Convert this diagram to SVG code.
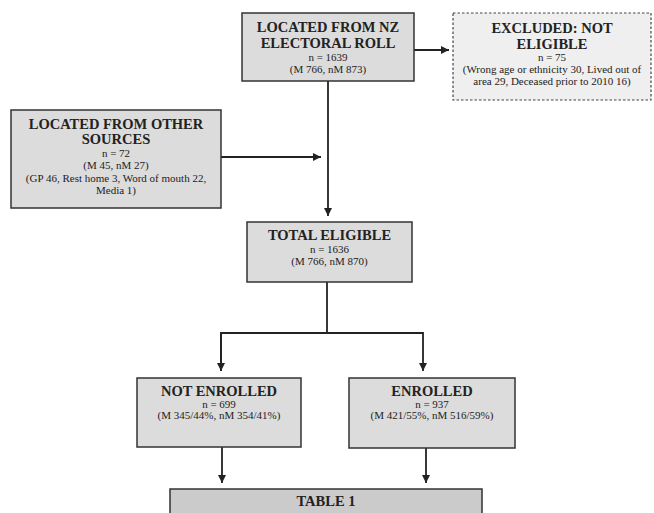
<svg xmlns="http://www.w3.org/2000/svg" width="654" height="513" viewBox="0 0 654 513">
<defs>
<style>
.box{fill:#dcdcdc;stroke:#333;stroke-width:1.5}
.excl{fill:#efefef;stroke:#444;stroke-width:1.2;stroke-dasharray:2.5,2}
.tbl{fill:#cbcbcb;stroke:#333;stroke-width:1.5}
.t{font-family:"Liberation Serif","Times New Roman",serif;font-weight:bold;font-size:14.5px;fill:#222;text-anchor:middle}
.s{font-family:"Liberation Serif","Times New Roman",serif;font-size:11px;fill:#222;text-anchor:middle}
.c{fill:none;stroke:#222;stroke-width:1.8}
</style>
<marker id="ah" viewBox="0 0 10 10" refX="10" refY="5" markerWidth="4.5" markerHeight="4.5" markerUnits="strokeWidth" orient="auto">
<path d="M0,0 L10,5 L0,10 z" fill="#222"/>
</marker>
</defs>
<rect width="654" height="513" fill="#fff"/>
<g id="connectors">
<line class="c" x1="328" y1="81" x2="328" y2="216" marker-end="url(#ah)"/>
<line class="c" x1="414" y1="50" x2="449" y2="50" marker-end="url(#ah)"/>
<line class="c" x1="221" y1="157" x2="321" y2="157" marker-end="url(#ah)"/>
<polyline class="c" points="327,282 327,333"/>
<polyline class="c" points="221,371 221,333 423,333 423,371" marker-start="url(#ah)" marker-end="url(#ah)" style="marker-start:none"/>
<line class="c" x1="221" y1="333" x2="221" y2="371" marker-end="url(#ah)"/>
<line class="c" x1="222" y1="447" x2="222" y2="483" marker-end="url(#ah)"/>
<line class="c" x1="426" y1="448" x2="426" y2="483" marker-end="url(#ah)"/>
</g>
<g id="electoral">
<rect class="box" x="242" y="13" width="172" height="68"/>
<text class="t" x="328" y="32">LOCATED FROM NZ</text>
<text class="t" x="328" y="48">ELECTORAL ROLL</text>
<text class="s" x="328" y="61">n = 1639</text>
<text class="s" x="328" y="73">(M 766, nM 873)</text>
</g>
<g id="excluded">
<rect class="excl" x="453" y="13" width="198" height="87"/>
<text class="t" x="552" y="33">EXCLUDED: NOT</text>
<text class="t" x="552" y="49">ELIGIBLE</text>
<text class="s" x="552" y="61">n = 75</text>
<text class="s" x="552" y="73">(Wrong age or ethnicity 30, Lived out of</text>
<text class="s" x="552" y="85">area 29, Deceased prior to 2010 16)</text>
</g>
<g id="other">
<rect class="box" x="11" y="110" width="210" height="98"/>
<text class="t" x="116" y="129">LOCATED FROM OTHER</text>
<text class="t" x="116" y="144">SOURCES</text>
<text class="s" x="116" y="157">n = 72</text>
<text class="s" x="116" y="169">(M 45, nM 27)</text>
<text class="s" x="116" y="182">(GP 46, Rest home 3, Word of mouth 22,</text>
<text class="s" x="116" y="194">Media 1)</text>
</g>
<g id="total">
<rect class="box" x="247" y="222" width="165" height="60"/>
<text class="t" x="329.5" y="240">TOTAL ELIGIBLE</text>
<text class="s" x="329.5" y="253">n = 1636</text>
<text class="s" x="329.5" y="265">(M 766, nM 870)</text>
</g>
<g id="notenrolled">
<rect class="box" x="137" y="378" width="164" height="69"/>
<text class="t" x="219" y="396">NOT ENROLLED</text>
<text class="s" x="219" y="408">n = 699</text>
<text class="s" x="219" y="419">(M 345/44%, nM 354/41%)</text>
</g>
<g id="enrolled">
<rect class="box" x="349" y="378" width="166" height="70"/>
<text class="t" x="432" y="396">ENROLLED</text>
<text class="s" x="432" y="408">n = 937</text>
<text class="s" x="432" y="419">(M 421/55%, nM 516/59%)</text>
</g>
<g id="table1">
<rect class="tbl" x="170" y="489" width="312" height="40"/>
<text class="t" x="326" y="506">TABLE 1</text>
</g>
</svg>
